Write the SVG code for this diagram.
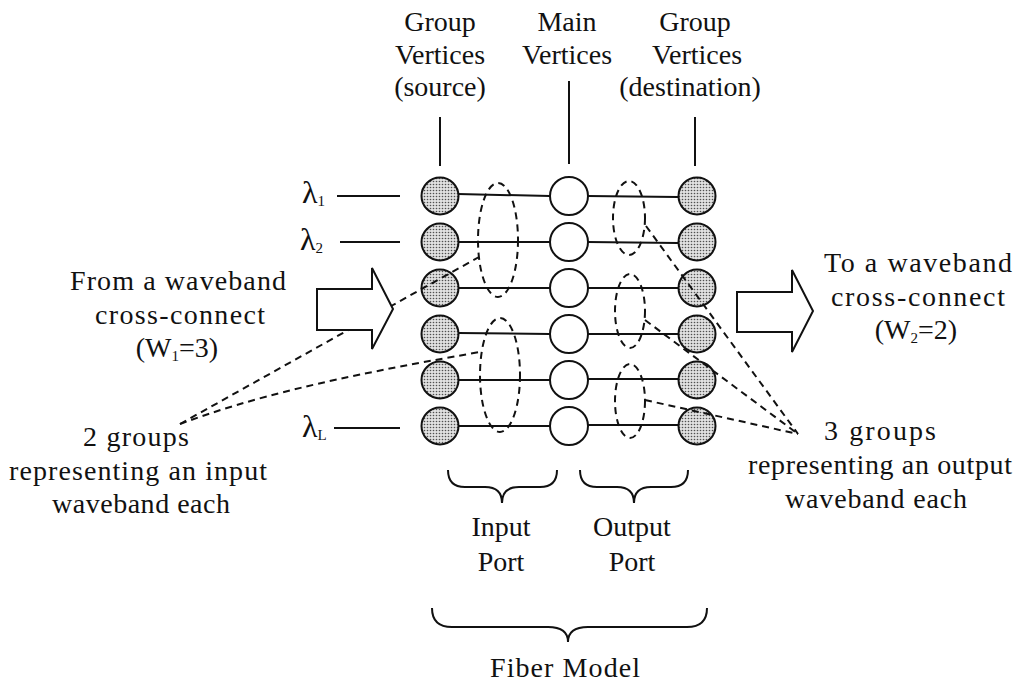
<svg xmlns="http://www.w3.org/2000/svg" width="1028" height="687" viewBox="0 0 1028 687">
<defs>
<pattern id="dots" width="3" height="3" patternUnits="userSpaceOnUse"><rect width="3" height="3" fill="#e0e0e0"/><circle cx="1.5" cy="1.5" r="0.8" fill="#505050"/></pattern>
<style>
text{font-family:"Liberation Serif","Times New Roman",serif;font-size:28px;fill:#111;}
.m{text-anchor:middle;}
.sub{font-size:15px;}
.lam{font-size:32px;}
.src,.dst{fill:url(#dots);stroke:#111;stroke-width:2;}
.mid{fill:#fff;stroke:#111;stroke-width:2;}
.ln{stroke:#111;stroke-width:2;fill:none;}
.dash{stroke:#111;stroke-width:2;fill:none;stroke-dasharray:7 5;}
.arrow{fill:#fff;stroke:#111;stroke-width:2;}
</style>
</defs>
<rect width="1028" height="687" fill="#fff"/>

<g id="labels-top">
<text class="m" x="440" y="31">Group</text>
<text class="m" x="440" y="64">Vertices</text>
<text class="m" x="440" y="96">(source)</text>
<text class="m" x="567" y="31">Main</text>
<text class="m" x="567" y="64">Vertices</text>
<text class="m" x="695" y="31">Group</text>
<text class="m" x="697" y="64">Vertices</text>
<text class="m" x="690" y="96">(destination)</text>
</g>

<g id="connectors">
<line class="ln" x1="440" y1="117" x2="440" y2="166"/>
<line class="ln" x1="569" y1="81" x2="569" y2="164"/>
<line class="ln" x1="695" y1="117" x2="695" y2="166"/>
<line class="ln" x1="337" y1="196" x2="400" y2="196"/>
<line class="ln" x1="340" y1="242" x2="400" y2="242"/>
<line class="ln" x1="334" y1="428" x2="400" y2="428"/>
<path class="ln" d="M458,194 L550,196 M588,196 L678,197"/>
<path class="ln" d="M458,242 L550,242 M588,242 L678,243"/>
<path class="ln" d="M458,288 L550,288 M588,288 L678,288"/>
<path class="ln" d="M458,333 L550,334 M588,334 L678,334"/>
<path class="ln" d="M458,380 L550,380 M588,379 L678,379"/>
<path class="ln" d="M458,426 L550,426 M588,425 L678,425"/>
</g>

<g id="node-s1"><circle class="src" cx="440" cy="196" r="18.5"/></g>
<g id="node-s2"><circle class="src" cx="440" cy="242" r="18.5"/></g>
<g id="node-s3"><circle class="src" cx="440" cy="288" r="18.5"/></g>
<g id="node-s4"><circle class="src" cx="440" cy="334" r="18.5"/></g>
<g id="node-s5"><circle class="src" cx="440" cy="380" r="18.5"/></g>
<g id="node-s6"><circle class="src" cx="440" cy="426" r="18.5"/></g>
<g id="node-m1"><circle class="mid" cx="569" cy="196" r="19"/></g>
<g id="node-m2"><circle class="mid" cx="569" cy="242" r="19"/></g>
<g id="node-m3"><circle class="mid" cx="569" cy="288" r="19"/></g>
<g id="node-m4"><circle class="mid" cx="569" cy="334" r="19"/></g>
<g id="node-m5"><circle class="mid" cx="569" cy="380" r="19"/></g>
<g id="node-m6"><circle class="mid" cx="569" cy="426" r="19"/></g>
<g id="node-d1"><circle class="dst" cx="697" cy="196" r="18.5"/></g>
<g id="node-d2"><circle class="dst" cx="697" cy="242" r="18.5"/></g>
<g id="node-d3"><circle class="dst" cx="697" cy="288" r="18.5"/></g>
<g id="node-d4"><circle class="dst" cx="697" cy="334" r="18.5"/></g>
<g id="node-d5"><circle class="dst" cx="697" cy="380" r="18.5"/></g>
<g id="node-d6"><circle class="dst" cx="697" cy="426" r="18.5"/></g>

<g id="groups">
<ellipse class="dash" cx="498" cy="240" rx="20" ry="57"/>
<ellipse class="dash" cx="500" cy="375" rx="20" ry="57"/>
<ellipse class="dash" cx="629" cy="218" rx="16" ry="37"/>
<ellipse class="dash" cx="630" cy="311" rx="15" ry="37"/>
<ellipse class="dash" cx="630" cy="401" rx="15" ry="37"/>
</g>

<g id="leaders">
<path class="dash" d="M180,424 L393,305 L479,257"/>
<path class="dash" d="M180,424 C250,398 330,378 480,352"/>
<path class="dash" d="M646,226 L798,434"/>
<path class="dash" d="M645,320 L798,434"/>
<path class="dash" d="M645,400 L798,434"/>
</g>

<g id="arrow-in"><polygon class="arrow" points="317,289 372,289 372,268 393,309 372,349 372,330 317,330"/></g>
<g id="arrow-out"><polygon class="arrow" points="737,292 792,292 792,270 813,311 792,352 792,332 737,332"/></g>

<g id="lambdas">
<text class="lam" x="302" y="203">λ<tspan class="sub" dy="3" font-size="14px">1</tspan></text>
<text class="lam" x="300" y="250">λ<tspan class="sub" dy="3" font-size="14px">2</tspan></text>
<text class="lam" x="302" y="437">λ<tspan class="sub" dy="3" font-size="11px">L</tspan></text>
</g>

<g id="label-from">
<text class="m" x="178" y="290" textLength="216" lengthAdjust="spacing">From a waveband</text>
<text class="m" x="180" y="324" textLength="170" lengthAdjust="spacing">cross-connect</text>
<text class="m" x="177" y="357">(W<tspan class="sub" dy="4">1</tspan><tspan dy="-4">=3)</tspan></text>
</g>

<g id="label-to">
<text class="m" x="918" y="272" textLength="188" lengthAdjust="spacing">To a waveband</text>
<text class="m" x="918" y="306" textLength="174" lengthAdjust="spacing">cross-connect</text>
<text class="m" x="916" y="339">(W<tspan class="sub" dy="4">2</tspan><tspan dy="-4">=2)</tspan></text>
</g>

<g id="label-in-groups">
<text class="m" x="136" y="446" textLength="106" lengthAdjust="spacing">2 groups</text>
<text class="m" x="138" y="480" textLength="258" lengthAdjust="spacing">representing an input</text>
<text class="m" x="141" y="513" textLength="178" lengthAdjust="spacing">waveband each</text>
</g>

<g id="label-out-groups">
<text class="m" x="880" y="440" textLength="112" lengthAdjust="spacing">3 groups</text>
<text class="m" x="880" y="474" textLength="264" lengthAdjust="spacing">representing an output</text>
<text class="m" x="876" y="508" textLength="182" lengthAdjust="spacing">waveband each</text>
</g>

<g id="brace-input">
<path class="ln" d="M448,470 Q448,487 465,487 L485,487 Q502,487 502,503 Q502,487 519,487 L540,487 Q557,487 557,470"/>
<text class="m" x="501" y="536">Input</text>
<text class="m" x="501" y="571">Port</text>
</g>
<g id="brace-output">
<path class="ln" d="M580,470 Q580,487 597,487 L617,487 Q634,487 634,503 Q634,487 651,487 L671,487 Q688,487 688,470"/>
<text class="m" x="632" y="536">Output</text>
<text class="m" x="632" y="571">Port</text>
</g>
<g id="brace-fiber">
<path class="ln" d="M432,608 Q432,627 452,627 L548,627 Q568,627 568,642 Q568,627 588,627 L687,627 Q707,627 707,608"/>
<text class="m" x="565" y="677" textLength="150" lengthAdjust="spacing">Fiber Model</text>
</g>
</svg>
